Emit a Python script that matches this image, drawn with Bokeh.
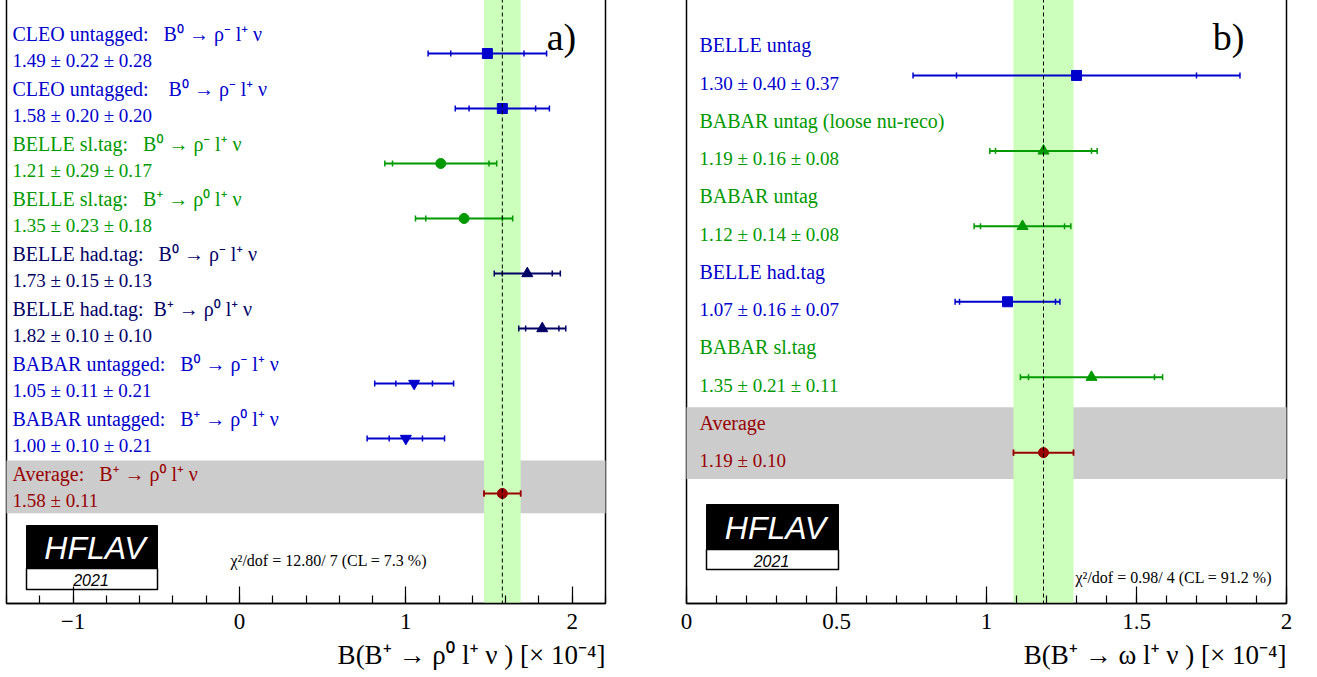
import numpy as np
from bokeh.plotting import figure
from bokeh.models import Range1d, Span, Title, FixedTicker, ColumnDataSource
from bokeh.layouts import row
from bokeh.embed import file_html
from bokeh.resources import INLINE
from bokeh.core.properties import value

BLUE = "#0000cc"
GREEN = "#009900"
NAVY = "#000066"
DRED = "#990000"
SP = " \u00a0\u00a0"

# ---------------- panel a data ----------------
a_labels = ["CLEO untagged:" + SP + "B⁰ → ρ⁻ l⁺ ν",
            "CLEO untagged:" + SP + " B⁰ → ρ⁻ l⁺ ν",
            "BELLE sl.tag:" + SP + "B⁰ → ρ⁻ l⁺ ν",
            "BELLE sl.tag:" + SP + "B⁺ → ρ⁰ l⁺ ν",
            "BELLE had.tag:" + SP + "B⁰ → ρ⁻ l⁺ ν",
            "BELLE had.tag:\u00a0 B⁺ → ρ⁰ l⁺ ν",
            "BABAR untagged:" + SP + "B⁰ → ρ⁻ l⁺ ν",
            "BABAR untagged:" + SP + "B⁺ → ρ⁰ l⁺ ν"]
a_values = [1.49, 1.58, 1.21, 1.35, 1.73, 1.82, 1.05, 1.00]
a_stat = [0.22, 0.20, 0.29, 0.23, 0.15, 0.10, 0.11, 0.10]
a_syst = [0.28, 0.20, 0.17, 0.18, 0.13, 0.10, 0.21, 0.21]
a_markers = ["square", "square", "circle", "circle", "triangle", "triangle",
             "inverted_triangle", "inverted_triangle"]
a_colors = [BLUE, BLUE, GREEN, GREEN, NAVY, NAVY, BLUE, BLUE]
a_avg_label = "Average:" + SP + "B⁺ → ρ⁰ l⁺ ν"
a_avg = 1.58
a_avg_err = 0.11
a_chi2 = "χ²/dof = 12.80/ 7 (CL = 7.3 %)"
a_xlabel = "B(B⁺ → ρ⁰ l⁺ ν ) [× 10⁻⁴]"
a_ticks = [-1, 0, 1, 2]
a_ticklabels = ["−1", "0", "1", "2"]

# ---------------- panel b data ----------------
b_labels = ["BELLE untag", "BABAR untag (loose nu-reco)", "BABAR untag",
            "BELLE had.tag", "BABAR sl.tag"]
b_values = [1.30, 1.19, 1.12, 1.07, 1.35]
b_stat = [0.40, 0.16, 0.14, 0.16, 0.21]
b_syst = [0.37, 0.08, 0.08, 0.07, 0.11]
b_markers = ["square", "triangle", "triangle", "square", "triangle"]
b_colors = [BLUE, GREEN, GREEN, BLUE, GREEN]
b_avg_label = "Average"
b_avg = 1.19
b_avg_err = 0.10
b_chi2 = "χ²/dof = 0.98/ 4 (CL = 91.2 %)"
b_xlabel = "B(B⁺ → ω l⁺ ν ) [× 10⁻⁴]"
b_ticks = [0, 0.5, 1, 1.5, 2]
b_ticklabels = ["0", "0.5", "1", "1.5", "2"]

SERIF = "Liberation Serif"
SERIF_X = "Liberation Serif, Noto Sans"
SANS = "Liberation Sans"


def fmt(v, s, y=None):
    if y is None:
        return f"{v:.2f} ± {s:.2f}"
    return f"{v:.2f} ± {s:.2f} ± {y:.2f}"


def make_panel(xr, yr, fw, bl, br, labels, vals, stat, syst, markers, colors,
               avg_label, avg, avg_err, chi2, xlabel, ticks, ticklabels, minor,
               lab_off, val_off, txt_dx, band, tag, PX, PY, logo, chi_pos, tag_pos):
    p = figure(frame_width=fw, frame_height=605, x_range=Range1d(*xr), y_range=Range1d(*yr),
               min_border_left=bl, min_border_right=br, min_border_top=0, min_border_bottom=60,
               output_backend="svg", toolbar_location=None, y_axis_location=None)
    p.xgrid.visible = False
    p.ygrid.visible = False
    p.outline_line_color = "black"
    p.outline_line_width = 1.5
    p.background_fill_color = "white"
    p.border_fill_color = "white"

    n = len(vals)
    rows_ = np.arange(n + 1)
    v = np.array(list(vals) + [avg])
    st = np.array(list(stat) + [avg_err])
    sy = np.array(list(syst) + [0.0])
    tot = np.sqrt(st ** 2 + sy ** 2)
    cols = list(colors) + [DRED]
    mks = list(markers) + ["circle"]
    sizes = [11 if "triangle" in m else 10 for m in mks]

    # gray average band
    p.quad(left=[xr[0] - 1], right=[xr[1] + 1], top=[n - band[0]], bottom=[n + band[1]],
           fill_color="#cccccc", line_color=None)
    # green average band
    p.quad(left=[avg - avg_err], right=[avg + avg_err], top=[yr[1] - 1], bottom=[yr[0] + 1],
           fill_color="#ccffbb", line_color=None)
    p.add_layout(Span(location=avg, dimension="height", line_color="black",
                      line_dash="4 3", line_width=1))

    cds = ColumnDataSource(dict(y=rows_, x=v, lo=v - tot, hi=v + tot, slo=v - st, shi=v + st,
                                color=cols, marker=mks, size=sizes))
    p.segment(x0="lo", x1="hi", y0="y", y1="y", line_color="color", line_width=2, source=cds)
    for c in ["lo", "hi", "slo", "shi"]:
        p.scatter(x=c, y="y", marker="dash", angle=np.pi / 2, size=6, line_color="color",
                  line_width=1.5, source=cds)
    p.scatter(x="x", y="y", marker="marker", size="size", fill_color="color",
              line_color="color", source=cds)

    # texts
    tlabels = list(labels) + [avg_label]
    tvals = [fmt(a, b, c) for a, b, c in zip(vals, stat, syst)] + [fmt(avg, avg_err)]
    xs = [xr[0]] * (n + 1)
    p.text(x=xs, y=rows_, text=tlabels, x_offset=txt_dx, y_offset=lab_off, text_color=cols,
           text_font=value(SERIF_X), text_font_size="20px", text_baseline="middle",
           text_align="left")
    p.text(x=xs, y=rows_, text=tvals, x_offset=txt_dx, y_offset=val_off, text_color=cols,
           text_font=value(SERIF), text_font_size="19px", text_baseline="middle",
           text_align="left")

    # panel tag
    p.text(x=[PX(tag_pos[0])], y=[PY(tag_pos[1])], text=[tag], text_font=value(SERIF),
           text_font_size="38px", text_align="center", text_baseline="middle",
           text_color="black")
    # chi2
    p.text(x=[PX(chi_pos[0])], y=[PY(chi_pos[1])], text=[chi2], text_font=value(SERIF),
           text_font_size="16px", text_align="left", text_baseline="middle",
           text_color="black")
    # logo
    lx0, lx1, ly0, ly1, ly2 = logo
    p.quad(left=[PX(lx0)], right=[PX(lx1)], top=[PY(ly0)], bottom=[PY(ly1)],
           fill_color="black", line_color="black")
    p.quad(left=[PX(lx0)], right=[PX(lx1)], top=[PY(ly1)], bottom=[PY(ly2)],
           fill_color="white", line_color="black", line_width=1.5)
    p.text(x=[PX((lx0 + lx1) / 2 + 3)], y=[PY((ly0 + ly1) / 2 + 1)], text=["HFLAV"],
           text_font=value(SANS), text_font_style="italic", text_font_size="32px",
           text_color="white", text_align="center", text_baseline="middle")
    p.text(x=[PX((lx0 + lx1) / 2 - 1)], y=[PY((ly1 + ly2) / 2 + 1)], text=["2021"],
           text_font=value(SANS), text_font_style="italic", text_font_size="16px",
           text_color="black", text_align="center", text_baseline="middle")

    ax = p.xaxis[0]
    ax.ticker = FixedTicker(ticks=ticks, minor_ticks=minor)
    ax.major_label_overrides = {t: l for t, l in zip(ticks, ticklabels)}
    ax.major_tick_in = 17
    ax.major_tick_out = 0
    ax.minor_tick_in = 8
    ax.minor_tick_out = 0
    ax.axis_line_width = 1.5
    ax.major_tick_line_width = 1.2
    ax.minor_tick_line_width = 1.2
    ax.major_label_text_font = SERIF
    ax.major_label_text_font_size = "23px"
    ax.major_label_text_color = "black"
    ax.major_label_standoff = 10
    p.add_layout(Title(text=xlabel, align="right", text_font=SERIF_X, text_font_size="27px",
                       text_font_style="normal", text_color="black", standoff=12), "below")
    return p


# pixel helpers for decorations (frame pixel -> data)
a_xr = (-1.4, 2.2)
a_yr = (10.0, -1.0)
b_xr = (0.0, 2.0)
b_yr = (7.0, -1.02)


def LX(px):
    return a_xr[0] + (px - 6) * (a_xr[1] - a_xr[0]) / 599


def LY(py):
    return a_yr[1] + (py + 2) * (a_yr[0] - a_yr[1]) / 605


def RX(px):
    return b_xr[0] + (px - 686) * (b_xr[1] - b_xr[0]) / 600


def RY(py):
    return b_yr[1] + (py + 2) * (b_yr[0] - b_yr[1]) / 605


p1 = make_panel(a_xr, a_yr, 599, 6, 41, a_labels, a_values, a_stat, a_syst, a_markers, a_colors,
                a_avg_label, a_avg, a_avg_err, a_chi2, a_xlabel, a_ticks, a_ticklabels,
                list(np.round(np.arange(-1.4, 2.21, 0.2), 2)),
                -20, 7, 6, (0.6, 0.36), "a)", LX, LY,
                (26, 157, 525, 568, 589), (230, 560), (561, 36))
p2 = make_panel(b_xr, b_yr, 600, 40, 23, b_labels, b_values, b_stat, b_syst, b_markers, b_colors,
                b_avg_label, b_avg, b_avg_err, b_chi2, b_xlabel, b_ticks, b_ticklabels,
                list(np.round(np.arange(0, 2.01, 0.1), 2)),
                -30, 8, 13, (0.6, 0.35), "b)", RX, RY,
                (706, 838, 504, 549, 569), (1075, 577), (1228, 36))

layout = row(p1, p2, margin=(-2, 0, -12, 0))
open("out.html", "w").write(file_html(layout, INLINE))
